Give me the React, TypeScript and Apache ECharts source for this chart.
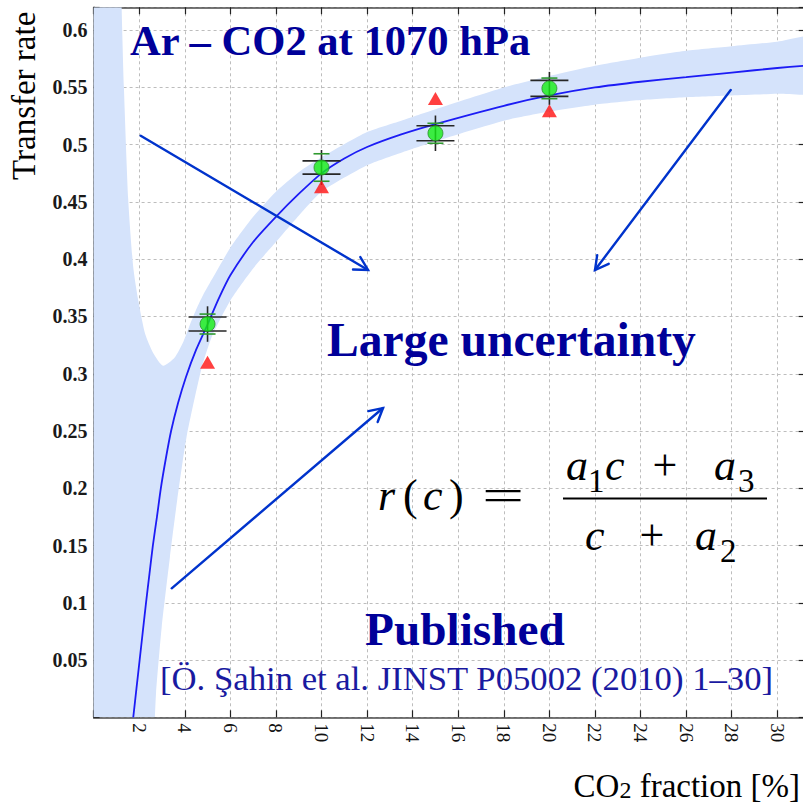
import React, { useEffect, useRef } from 'react';
import * as echarts from 'echarts';

const SERIF = "'Liberation Serif', 'Times New Roman', serif";
const NAVY = '#000099';
const ARROW_BLUE = '#0033cc';

// Axis ranges and tick steps
const X_MAX = 31.2;
const Y_MAX = 0.62;
const X_STEP = 2;
const Y_STEP = 0.05;

// CO2 fraction [%] of the four measured mixtures
const fractions = [5, 10, 15, 20];
// measured transfer rate (green points)
const measuredRate = [0.3434, 0.4801, 0.51, 0.5492];
// inner (black-capped) uncertainty
const innerErr = [0.0061, 0.0058, 0.0065, 0.007];
// outer (green-capped) uncertainty
const outerErr = [0.0087, 0.012, 0.0087, 0.009];
// half-length of the black vertical bar
const barHalf = [0.0155, 0.0153, 0.0155, 0.0144];
// published transfer rates (red triangles)
const publishedRate = [0.31, 0.4633, 0.5403, 0.5297];

// fitted r(c)
const fitC = [1.74, 1.88, 2.02, 2.16, 2.3, 2.45, 2.6, 2.78, 2.95, 3.17, 3.4, 3.7, 4.05, 4.5, 5, 5.5, 6, 7, 8, 9, 10, 11, 12, 13.5, 15, 18, 20, 22, 24, 26, 28, 30, 31.2];
const fitR = [0, 0.025, 0.05, 0.075, 0.1, 0.125, 0.15, 0.175, 0.2, 0.226, 0.25, 0.274, 0.297, 0.321, 0.343, 0.366, 0.386, 0.415, 0.437, 0.457, 0.475, 0.488, 0.498, 0.509, 0.518, 0.534, 0.543, 0.55, 0.555, 0.559, 0.563, 0.567, 0.569];

// confidence band of the fit: upper edge
const bandUpperC = [-1, 1.1, 1.23, 1.33, 1.52, 1.74, 1.96, 2.26, 2.62, 3.05, 3.55, 3.94, 4.23, 4.52, 4.81, 5.18, 6, 7, 8, 9, 10, 12, 13.5, 15, 18, 20, 22, 24, 26, 28, 30, 32];
const bandUpperR = [1.2, 0.75, 0.62, 0.55, 0.452, 0.393, 0.364, 0.335, 0.318, 0.307, 0.314, 0.328, 0.343, 0.357, 0.369, 0.382, 0.41, 0.437, 0.459, 0.476, 0.489, 0.511, 0.521, 0.531, 0.55, 0.56, 0.569, 0.576, 0.582, 0.586, 0.59, 0.595];
// confidence band of the fit: lower edge
const bandLowerC = [-1, 1.5, 2.3, 2.6, 2.69, 2.74, 2.99, 3.35, 3.67, 4.08, 4.74, 5.2, 6, 7, 8, 9, 10, 12, 13.5, 15, 18, 20, 22, 24, 26, 28, 30, 32];
const bandLowerR = [-0.8, -0.4, -0.12, -0.03, 0, 0.021, 0.079, 0.14, 0.19, 0.245, 0.305, 0.333, 0.364, 0.392, 0.415, 0.438, 0.459, 0.482, 0.493, 0.503, 0.521, 0.529, 0.535, 0.539, 0.5415, 0.543, 0.5445, 0.546];

const BASE = 0.3375; // centre-to-baseline offset of the serif face, in em

const txt = (text: string, x: number, baseline: number, size: number, extra: any = {}) => ({
  type: 'text',
  x,
  y: baseline - BASE * size,
  z: 100,
  silent: true,
  style: {
    text,
    fontSize: size,
    fontFamily: SERIF,
    fill: '#000',
    align: 'left',
    verticalAlign: 'middle',
    ...extra,
  },
});

const arrow = (x1: number, y1: number, x2: number, y2: number) => {
  const ang = Math.atan2(y2 - y1, x2 - x1);
  const len = 15;
  const spread = 0.5;
  const a1 = [x2 - len * Math.cos(ang - spread), y2 - len * Math.sin(ang - spread)];
  const a2 = [x2 - len * Math.cos(ang + spread), y2 - len * Math.sin(ang + spread)];
  const style = { stroke: ARROW_BLUE, lineWidth: 2.4, lineCap: 'round' };
  return [
    { type: 'line', z: 100, silent: true, shape: { x1, y1, x2, y2 }, style },
    { type: 'polyline', z: 100, silent: true, shape: { points: [a1, [x2, y2], a2] }, style: { ...style, fill: null } },
  ];
};

const F = 44; // formula font size
const SUB = 33; // formula subscript size

const graphicElements: any[] = [
  txt('Ar \u2013 CO2 at 1070 hPa', 130, 55, 42.6, { fontWeight: 'bold', fill: NAVY }),
  txt('Large uncertainty', 327, 356, 47.6, { fontWeight: 'bold', fill: NAVY }),
  txt('Published', 365, 645, 47.3, { fontWeight: 'bold', fill: NAVY }),
  txt('[\u00d6. \u015eahin et al. JINST P05002 (2010) 1\u201330]', 160, 690, 34.7, { fill: '#1a1aa0' }),
  // r(c) = (a1 c + a3) / (c + a2)
  txt('r', 378, 510, F, { fontStyle: 'italic' }),
  txt('(', 403, 510, F),
  txt('c', 423, 510, F, { fontStyle: 'italic' }),
  txt(')', 449, 510, F),
  { ...txt('=', 503, 510, F, { align: 'center' }), scaleX: 1.7 },
  txt('a', 566, 480, F, { fontStyle: 'italic' }),
  txt('1', 588, 492, SUB),
  txt('c', 605, 480, F, { fontStyle: 'italic' }),
  txt('+', 665, 480, F, { align: 'center' }),
  txt('a', 714, 480, F, { fontStyle: 'italic' }),
  txt('3', 738, 492, SUB),
  { type: 'line', z: 100, silent: true, shape: { x1: 563, y1: 498.5, x2: 767, y2: 498.5 }, style: { stroke: '#000', lineWidth: 2 } },
  txt('c', 585, 550, F, { fontStyle: 'italic' }),
  txt('+', 652, 550, F, { align: 'center' }),
  txt('a', 695, 550, F, { fontStyle: 'italic' }),
  txt('2', 720, 562, SUB),
  // axis titles
  {
    type: 'text',
    x: 35 - BASE * 33,
    y: 180,
    rotation: Math.PI / 2,
    z: 100,
    silent: true,
    style: { text: 'Transfer rate', fontSize: 33, fontFamily: SERIF, fill: '#000', align: 'left', verticalAlign: 'middle' },
  },
  {
    type: 'text',
    x: 800,
    y: 769.4,
    z: 100,
    silent: true,
    style: {
      text: '{m|CO}{s|2}{m| fraction [%]}',
      align: 'right',
      verticalAlign: 'top',
      rich: {
        m: { fontSize: 33, fontFamily: SERIF, fill: '#000', lineHeight: 33 },
        s: { fontSize: 24, fontFamily: SERIF, fill: '#000', lineHeight: 16, verticalAlign: 'bottom' },
      },
    },
  },
  ...arrow(140.7, 135.7, 368, 270),
  ...arrow(730.7, 90, 595, 270),
  ...arrow(171.7, 588.3, 383, 408),
];

const renderBand = (params: any, api: any) => {
  if (params.dataIndex !== 0) return null;
  const cs = params.coordSys;
  const pts: number[][] = [];
  bandUpperC.forEach((c, i) => pts.push(api.coord([c, bandUpperR[i]])));
  for (let i = bandLowerC.length - 1; i >= 0; i--) pts.push(api.coord([bandLowerC[i], bandLowerR[i]]));
  return {
    type: 'polygon',
    shape: { points: pts, smooth: 0.2 },
    style: { fill: '#d5e3fb', stroke: null },
    clipPath: { type: 'rect', shape: { x: cs.x, y: cs.y, width: cs.width, height: cs.height } },
  };
};

const renderErrorBar = (_params: any, api: any) => {
  const c = api.value(0);
  const v = api.value(1);
  const inner = api.value(2);
  const outer = api.value(3);
  const half = api.value(4);
  const x = api.coord([c, v])[0];
  const yAt = (d: number) => api.coord([c, v + d])[1];
  const black = { stroke: '#262626', lineWidth: 1.6 };
  const green = { stroke: '#2f9a2f', lineWidth: 1.6 };
  const hline = (yy: number, hw: number, style: any) => ({
    type: 'line',
    shape: { x1: x - hw, y1: yy, x2: x + hw, y2: yy },
    style,
  });
  return {
    type: 'group',
    children: [
      { type: 'line', shape: { x1: x, y1: yAt(half), x2: x, y2: yAt(-half) }, style: black },
      hline(yAt(outer), 8, green),
      hline(yAt(-outer), 8, green),
      hline(yAt(inner), 19, black),
      hline(yAt(-inner), 19, black),
    ],
  };
};

const frameLine = { show: true, onZero: false, lineStyle: { color: '#4a4a4a', width: 1.5 } };
const tickStyle = { color: '#222', width: 1.2 };
const gridDash = { show: true, lineStyle: { color: '#bdbdbd', width: 1, type: [3, 3] } };

const xLabel = (v: number) => (v > 0 && Math.abs(v / X_STEP - Math.round(v / X_STEP)) < 1e-6 ? String(v) : '');
const yLabel = (v: number) => {
  const k = v / Y_STEP;
  if (v <= 0 || Math.abs(k - Math.round(k)) > 1e-6) return '';
  return String(Math.round(v * 100) / 100);
};

const option: any = {
  animation: false,
  backgroundColor: '#fff',
  grid: { left: 93.6, top: 7.3, width: X_MAX * 22.79, height: 710, containLabel: false, outerBoundsMode: 'none' },
  xAxis: [
    {
      type: 'value',
      position: 'bottom',
      min: 0,
      max: X_MAX,
      interval: X_STEP,
      axisLine: frameLine,
      axisTick: { show: true, inside: true, length: 7, lineStyle: tickStyle },
      axisLabel: { rotate: -90, margin: 6, fontSize: 19, fontFamily: SERIF, color: '#111', formatter: xLabel },
      splitLine: gridDash,
    },
    {
      type: 'value',
      position: 'top',
      min: 0,
      max: X_MAX,
      interval: X_STEP,
      axisLine: frameLine,
      axisTick: { show: true, inside: true, length: 7, lineStyle: tickStyle },
      axisLabel: { show: false },
      splitLine: { show: false },
    },
  ],
  yAxis: [
    {
      type: 'value',
      position: 'left',
      min: 0,
      max: Y_MAX,
      interval: Y_STEP,
      axisLine: frameLine,
      axisTick: { show: true, inside: true, length: 6, lineStyle: tickStyle },
      axisLabel: { margin: 6, fontSize: 20, fontWeight: 'bold', fontFamily: SERIF, color: '#1a1a1a', formatter: yLabel },
      splitLine: gridDash,
    },
    {
      type: 'value',
      position: 'right',
      min: 0,
      max: Y_MAX,
      interval: Y_STEP,
      axisLine: frameLine,
      axisTick: { show: true, inside: true, length: 6, lineStyle: tickStyle },
      axisLabel: { show: false },
      splitLine: { show: false },
    },
  ],
  series: [
    {
      type: 'custom',
      name: 'band',
      renderItem: renderBand,
      data: [[0, 0]],
      clip: true,
      silent: true,
      z: 1,
    },
    {
      type: 'line',
      name: 'fit',
      data: fitC.map((c, i) => [c, fitR[i]]),
      smooth: 0.25,
      symbol: 'none',
      lineStyle: { color: '#1c1cf5', width: 1.8 },
      clip: true,
      silent: true,
      z: 2,
    },
    {
      type: 'custom',
      name: 'errors',
      renderItem: renderErrorBar,
      encode: { x: 0, y: 1 },
      data: fractions.map((c, i) => [c, measuredRate[i], innerErr[i], outerErr[i], barHalf[i]]),
      silent: true,
      z: 3,
    },
    {
      type: 'scatter',
      name: 'published',
      symbol: 'triangle',
      symbolSize: [15, 13],
      itemStyle: { color: '#ff1010' },
      data: fractions.map((c, i) => [c, publishedRate[i]]),
      silent: true,
      z: 4,
    },
    {
      type: 'scatter',
      name: 'measured',
      symbol: 'circle',
      symbolSize: 15,
      itemStyle: { color: '#14ee14', borderColor: '#2a8a2a', borderWidth: 1 },
      data: fractions.map((c, i) => [c, measuredRate[i]]),
      silent: true,
      z: 5,
    },
  ],
  graphic: { elements: graphicElements },
};

export default function App() {
  const ref = useRef<HTMLDivElement>(null);
  useEffect(() => {
    const el = ref.current;
    if (!el) return;
    const chart = echarts.init(el, null, { renderer: 'svg' });
    chart.setOption(option);
    return () => chart.dispose();
  }, []);
  return (
    <div
      ref={ref}
      style={{ position: 'fixed', left: 0, top: 0, width: 803, height: 803, background: '#fff' }}
    />
  );
}
